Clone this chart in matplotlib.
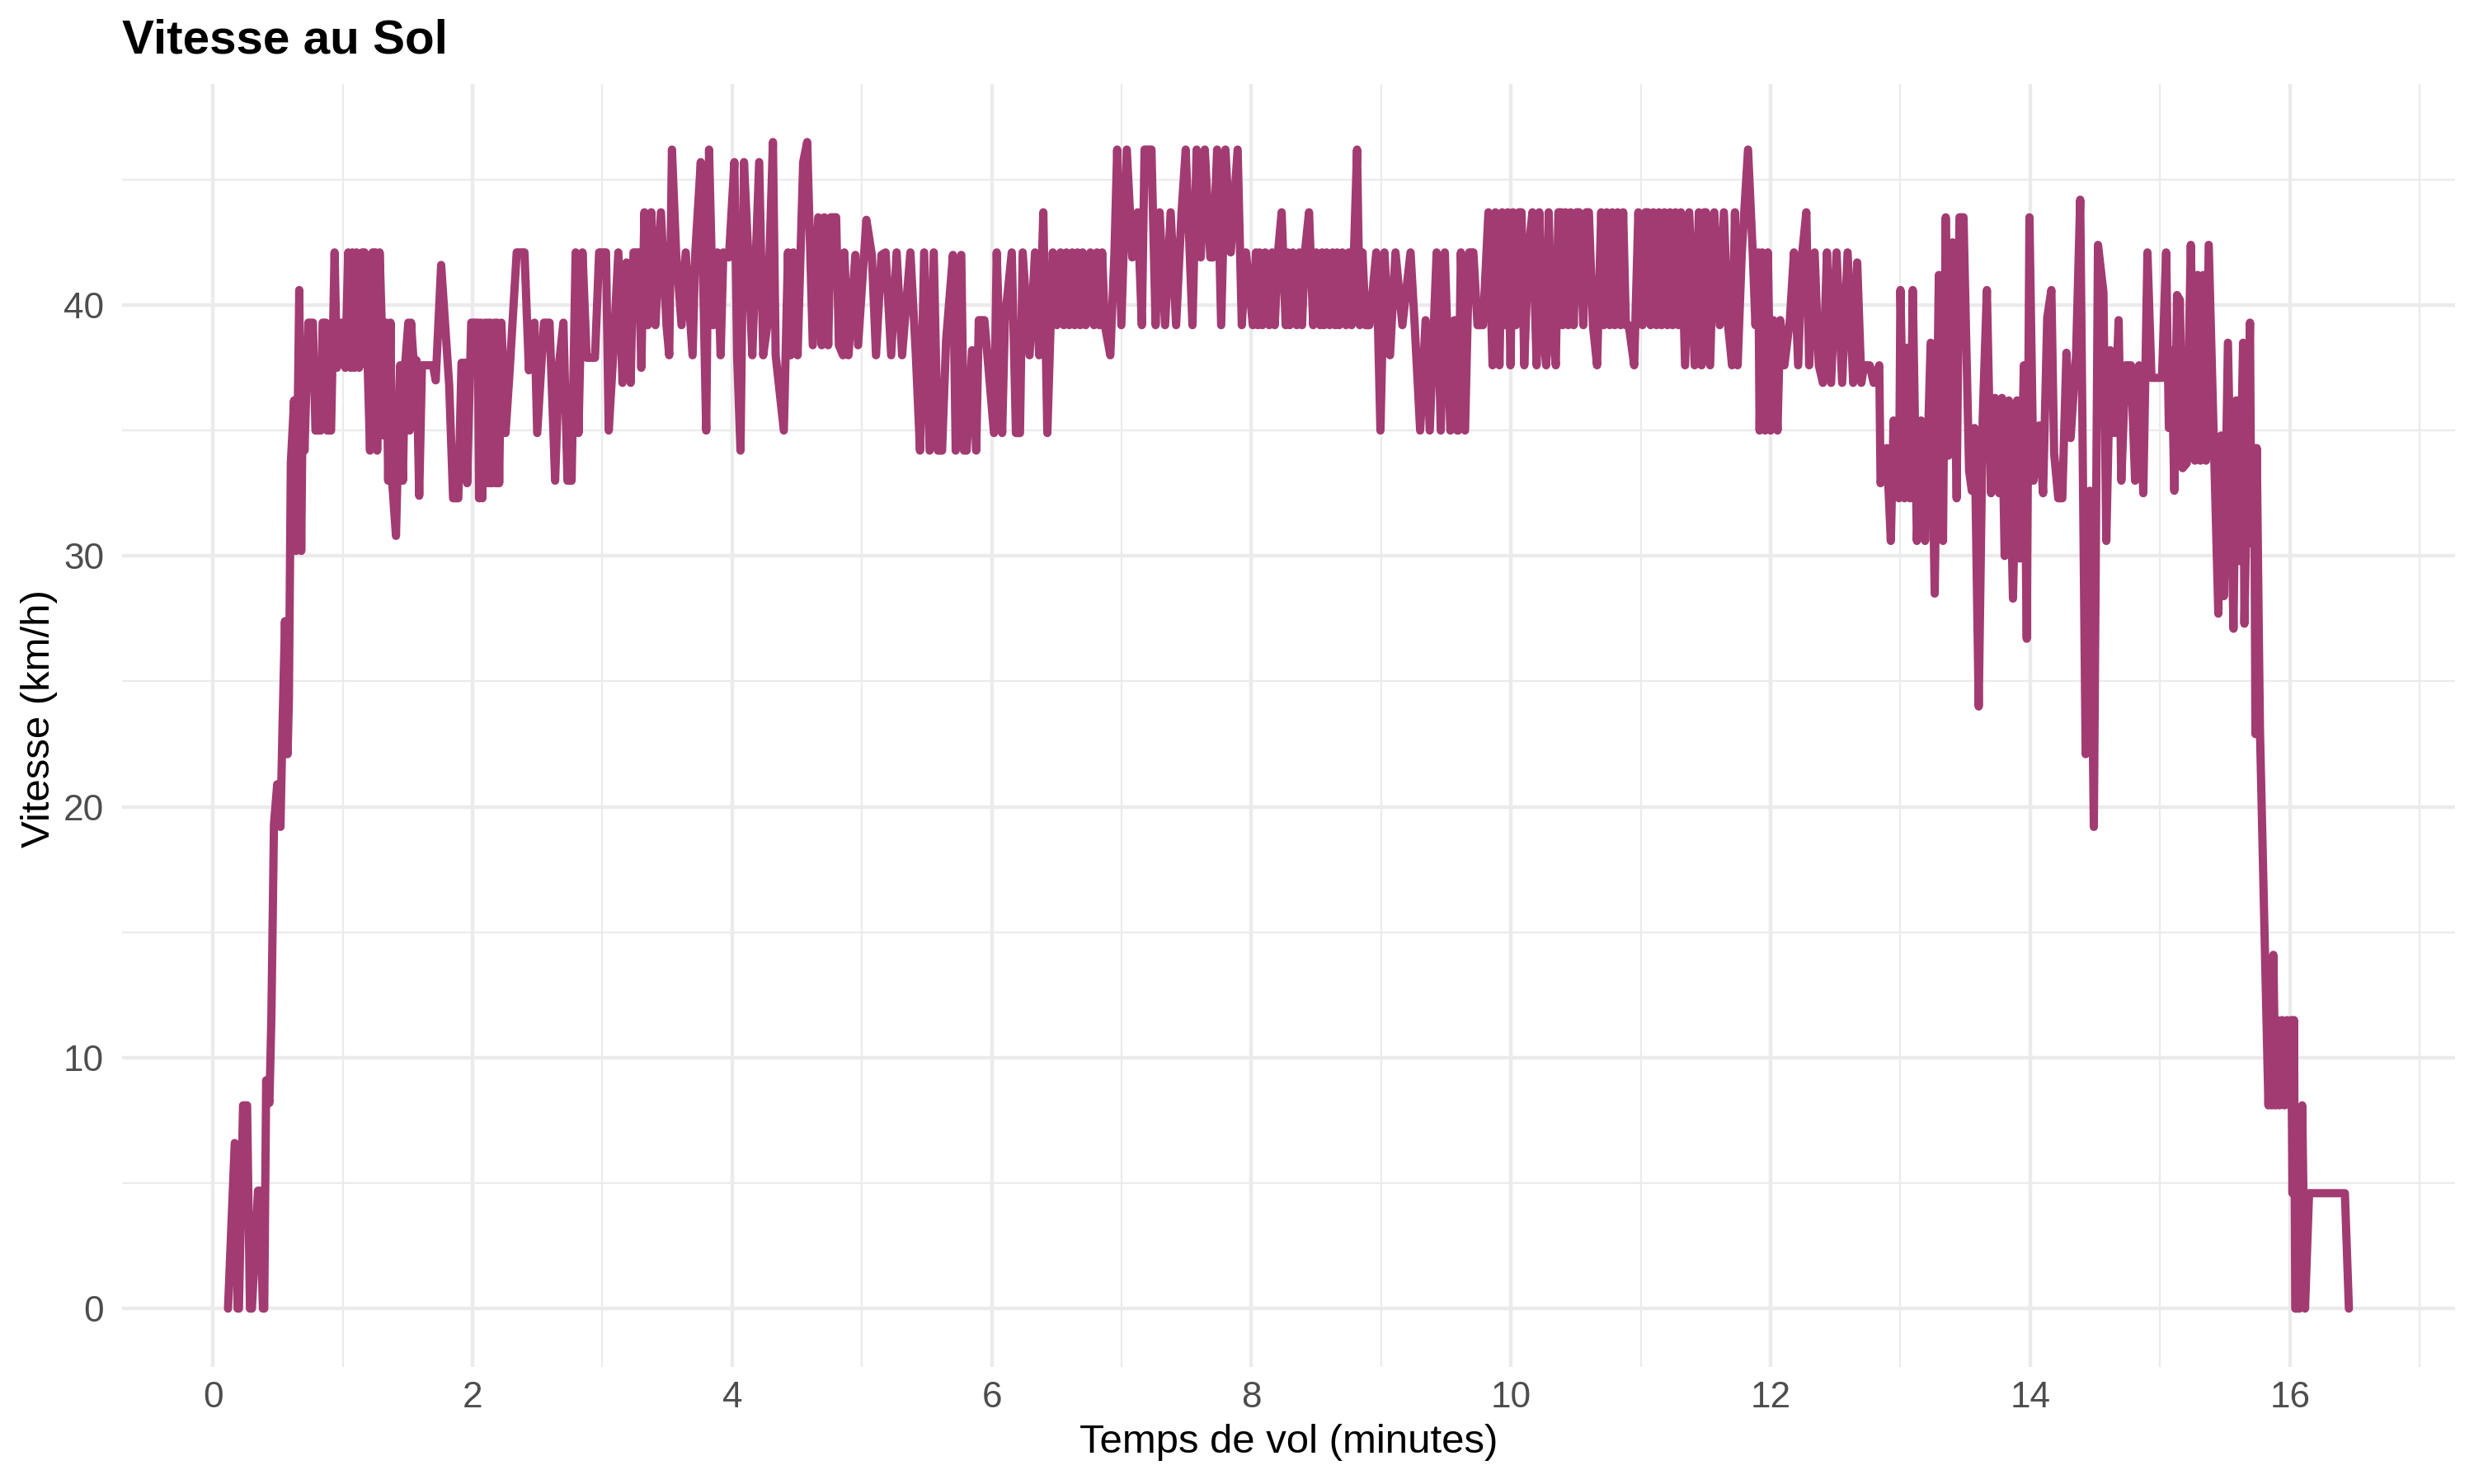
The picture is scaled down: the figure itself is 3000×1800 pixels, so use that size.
"""
Vitesse au sol d'un vol - recreation du graphique en matplotlib
"""

import numpy as np
import matplotlib.pyplot as plt
from matplotlib.ticker import MultipleLocator

# ---- Donnees (temps en minutes, vitesse en km/h) ----

# Decollage et montee
t_decollage = [0.116, 0.168, 0.19, 0.20, 0.232, 0.263, 0.285, 0.30, 0.347, 0.36,
               0.385, 0.395, 0.41, 0.435, 0.45, 0.47, 0.495, 0.52, 0.535, 0.555,
               0.575, 0.585, 0.60, 0.625, 0.64, 0.665, 0.68, 0.695, 0.705, 0.735,
               0.77, 0.79, 0.83, 0.845, 0.87, 0.88, 0.91, 0.937, 0.955, 0.99,
               1.02, 1.042, 1.06, 1.074, 1.09, 1.105, 1.126, 1.15, 1.168, 1.19,
               1.21, 1.23, 1.253, 1.265, 1.284, 1.30, 1.316, 1.335, 1.35, 1.368,
               1.38, 1.41, 1.442, 1.463, 1.48, 1.505, 1.515, 1.526, 1.545, 1.568,
               1.589, 1.61, 1.632, 1.695, 1.716, 1.758]
v_decollage = [0, 6.6, 0, 0, 8.1, 8.1, 0, 0, 4.7, 4.7,
               0, 0, 9.1, 8.2, 11.6, 19.3, 20.9, 19.2, 23.0, 27.4,
               22.1, 24.3, 33.7, 36.2, 30.2, 40.6, 30.2, 38.2, 34.2, 39.3,
               39.3, 35.0, 35.0, 39.3, 39.3, 35.0, 35.0, 42.1, 37.5, 39.3,
               37.5, 42.1, 37.5, 42.1, 37.5, 42.1, 37.5, 42.1, 42.1, 38.0,
               34.2, 42.1, 42.1, 34.2, 42.1, 39.3, 34.8, 39.3, 33.0, 39.3,
               33.0, 30.8, 37.6, 33.0, 37.6, 39.3, 35.0, 39.3, 37.8, 37.8,
               32.4, 37.6, 37.6, 37.6, 37.0, 41.6]

# Premiere partie du palier (2 a 4 min)
t_palier_a = [1.82, 1.85, 1.89, 1.915, 1.947, 1.958, 1.99, 2.04, 2.05, 2.064,
              2.075, 2.095, 2.105, 2.117, 2.128, 2.138, 2.15, 2.17, 2.18, 2.19,
              2.205, 2.222, 2.254, 2.286, 2.34, 2.40, 2.434,
              2.477, 2.498, 2.55, 2.593, 2.636, 2.667, 2.70, 2.731, 2.763, 2.794,
              2.816, 2.847, 2.879, 2.943, 2.975, 3.028, 3.049, 3.08, 3.123, 3.155,
              3.186, 3.218, 3.24, 3.28, 3.30, 3.324, 3.35, 3.377, 3.409, 3.451,
              3.494, 3.515, 3.536, 3.568, 3.61, 3.642, 3.695, 3.716, 3.758, 3.80,
              3.822, 3.854, 3.886]
v_palier_a = [36.8, 32.3, 32.3, 37.7, 37.7, 32.9, 39.3, 39.3, 32.3, 39.3,
              32.3, 39.3, 32.9, 39.3, 32.9, 39.3, 32.9, 39.3, 32.9, 39.3,
              32.9, 39.3, 34.9, 37.4, 42.1, 42.1, 37.4,
              39.3, 34.9, 39.3, 39.3, 33.0, 37.7, 39.3, 33.0, 33.0, 42.1,
              34.9, 42.1, 37.9, 37.9, 42.1, 42.1, 35.0, 37.7, 42.1, 36.9,
              41.7, 36.9, 42.1, 42.1, 37.5, 43.7, 39.2, 43.7, 39.2, 43.7,
              39.2, 38.0, 46.2, 42.1, 39.2, 42.1, 38.0, 42.1, 45.7, 35.0,
              46.2, 39.2, 42.1]

# Palier 4 a 5.8 min
t_palier_b = [3.911, 3.932, 3.975, 4.017, 4.038, 4.064, 4.091, 4.123, 4.155, 4.208,
              4.239, 4.271, 4.314, 4.335, 4.398, 4.43, 4.45, 4.472, 4.504, 4.547,
              4.578, 4.621, 4.663, 4.69, 4.71, 4.74, 4.76, 4.801, 4.822, 4.854,
              4.864, 4.896, 4.949, 4.97, 5.034, 5.076, 5.108, 5.15, 5.182, 5.225,
              5.267, 5.309, 5.373, 5.415, 5.447, 5.479, 5.521, 5.553, 5.585, 5.617,
              5.648, 5.701, 5.722, 5.765, 5.786]
v_palier_b = [38.0, 42.1, 41.9, 45.7, 38.0, 34.2, 45.7, 42.1, 38.0, 45.7,
              38.0, 39.2, 46.5, 38.0, 35.0, 42.1, 38.0, 42.1, 38.0, 45.7,
              46.5, 38.4, 43.5, 38.4, 43.5, 38.4, 43.5, 43.5, 38.4, 38.0,
              42.1, 38.0, 42.0, 38.4, 43.4, 42.0, 38.0, 42.0, 42.1, 38.0,
              42.1, 38.0, 42.1, 38.0, 34.2, 42.1, 34.2, 42.1, 34.2, 34.2,
              38.6, 42.0, 34.2, 42.0, 34.2]

# Palier 5.8 a 7.7 min
t_palier_c = [5.806, 5.848, 5.88, 5.90, 5.943, 6.017, 6.038, 6.08, 6.101, 6.154,
              6.186, 6.217, 6.238, 6.291, 6.333, 6.365, 6.397, 6.428, 6.47, 6.502,
              6.53, 6.555, 6.575, 6.597, 6.62, 6.639, 6.66, 6.681, 6.70, 6.724,
              6.76, 6.787, 6.81, 6.829, 6.85, 6.871, 6.913, 6.945, 6.966, 6.998,
              7.04, 7.082, 7.124, 7.156, 7.177, 7.23, 7.262, 7.293, 7.335, 7.378,
              7.42, 7.462, 7.494, 7.546, 7.578, 7.61, 7.641, 7.684]
v_palier_c = [34.2, 38.2, 34.2, 39.4, 39.4, 34.9, 42.1, 34.9, 39.4, 42.1,
              34.9, 34.9, 42.1, 38.0, 42.1, 38.0, 43.7, 34.9, 42.1, 39.2,
              42.1, 39.2, 42.1, 39.2, 42.1, 39.2, 42.1, 39.2, 42.1, 39.2,
              42.1, 39.2, 42.1, 39.2, 42.1, 39.2, 38.0, 42.1, 46.2, 39.2,
              46.2, 41.9, 43.7, 39.2, 46.2, 46.2, 39.2, 43.7, 39.2, 43.7,
              39.2, 43.7, 46.2, 39.2, 46.2, 41.9, 46.2, 41.9]

# Palier 7.7 a 9.6 min
t_palier_d = [7.704, 7.736, 7.767, 7.80, 7.841, 7.894, 7.926, 7.958, 8.011, 8.035,
              8.05, 8.063, 8.085, 8.106, 8.137, 8.16, 8.18, 8.205, 8.233, 8.264,
              8.28, 8.296, 8.32, 8.349, 8.37, 8.39, 8.412, 8.444, 8.476, 8.50,
              8.529, 8.545, 8.56, 8.58, 8.603, 8.625, 8.645, 8.66, 8.677, 8.70,
              8.729, 8.75, 8.772, 8.79, 8.814, 8.835, 8.856, 8.88,
              8.909, 8.962, 8.994, 9.025, 9.068, 9.11, 9.163, 9.226, 9.258, 9.30,
              9.342, 9.374, 9.427, 9.459, 9.49, 9.533, 9.564, 9.586]
v_palier_d = [41.9, 46.2, 39.2, 46.2, 42.1, 46.2, 39.2, 42.1, 39.2, 42.1,
              39.2, 42.1, 39.2, 42.1, 39.2, 42.1, 39.2, 42.1, 43.7, 39.2,
              42.1, 39.2, 42.1, 39.2, 42.1, 39.2, 42.1, 43.7, 39.2, 42.1,
              39.2, 42.1, 39.2, 42.1, 39.2, 42.1, 39.2, 42.1, 39.2, 42.1,
              39.2, 42.1, 39.2, 42.1, 46.2, 39.2, 42.1, 39.2,
              39.2, 42.1, 35.0, 42.1, 38.0, 42.1, 39.2, 42.1, 39.2, 35.0,
              39.4, 35.0, 42.1, 35.0, 42.1, 35.0, 39.4, 35.0]

# Palier 9.6 a 11.5 min
t_palier_e = [9.593, 9.614, 9.646, 9.678, 9.71, 9.742, 9.784, 9.826, 9.858, 9.88,
              9.911, 9.932, 9.955, 9.975, 9.996, 10.015, 10.038, 10.06, 10.081, 10.102,
              10.133, 10.165, 10.197, 10.218, 10.239, 10.271, 10.29, 10.314, 10.345, 10.365,
              10.388, 10.398, 10.42, 10.441, 10.46, 10.483, 10.505, 10.525, 10.557, 10.58,
              10.6, 10.631, 10.663, 10.695, 10.715, 10.737, 10.76, 10.78, 10.80, 10.822,
              10.845, 10.864, 10.885, 10.907, 10.949, 10.981, 11.013, 11.035, 11.055, 11.075,
              11.097, 11.12, 11.14, 11.16, 11.182, 11.205, 11.225, 11.245, 11.267, 11.29,
              11.309, 11.341, 11.373, 11.415, 11.447, 11.468, 11.489]
v_palier_e = [35.0, 42.1, 35.0, 42.1, 42.1, 39.2, 39.2, 43.7, 37.6, 43.7,
              37.6, 43.7, 39.2, 43.7, 37.6, 43.7, 39.2, 43.7, 43.7, 37.6,
              42.1, 43.7, 37.6, 43.7, 39.2, 37.6, 43.7, 39.2, 37.6, 43.7,
              43.7, 39.2, 43.7, 39.2, 43.7, 39.2, 43.7, 43.7, 39.2, 43.7,
              43.7, 39.2, 37.6, 43.7, 39.2, 43.7, 39.2, 43.7, 39.2, 43.7,
              39.2, 43.7, 39.2, 39.2, 37.6, 43.7, 39.2, 43.7, 43.7, 39.2,
              43.7, 39.2, 43.7, 39.2, 43.7, 39.2, 43.7, 39.2, 43.7, 39.2,
              43.7, 37.6, 43.7, 37.6, 43.7, 37.6, 43.7]

# Fin du palier 11.5 a 12.85 min
t_palier_f = [11.502, 11.534, 11.566, 11.608, 11.64, 11.672, 11.703, 11.725, 11.746, 11.778,
              11.826, 11.862, 11.883, 11.905, 11.915, 11.935, 11.958, 11.979, 12.0, 12.021,
              12.053, 12.074, 12.106, 12.148, 12.18, 12.212, 12.244, 12.275, 12.297, 12.339,
              12.371, 12.403, 12.434, 12.466, 12.508, 12.551, 12.593, 12.636, 12.667, 12.699,
              12.72, 12.763, 12.794, 12.837, 12.847]
v_palier_f = [43.7, 37.6, 43.7, 39.2, 43.7, 39.2, 37.6, 43.7, 37.6, 42.1,
              46.2, 42.1, 39.2, 42.1, 35.0, 42.1, 35.0, 42.1, 35.0, 39.4,
              35.0, 39.4, 37.6, 39.4, 42.1, 37.6, 42.1, 43.7, 37.6, 42.1,
              37.6, 36.9, 42.1, 36.9, 42.1, 36.9, 42.1, 36.9, 41.7, 36.9,
              37.6, 37.6, 36.9, 37.6, 32.9]

# Phase turbulente 12.9 a 14.9 min
t_turbulence = [12.894, 12.926, 12.947, 12.989, 13.0, 13.032, 13.053, 13.074, 13.095, 13.127,
                13.159, 13.19, 13.233, 13.264, 13.296, 13.328, 13.349, 13.37, 13.402, 13.433,
                13.455, 13.486, 13.507, 13.529, 13.55, 13.571, 13.603, 13.634, 13.666, 13.698,
                13.729, 13.761, 13.782, 13.803, 13.835, 13.867, 13.899, 13.92, 13.951, 13.973,
                13.994, 14.025, 14.068, 14.099, 14.131, 14.163, 14.184, 14.216, 14.247, 14.279,
                14.311, 14.353, 14.385, 14.406, 14.427, 14.459, 14.49, 14.522, 14.564, 14.586,
                14.617, 14.649, 14.681, 14.702, 14.734, 14.776, 14.808, 14.839, 14.871, 14.903,
                14.934]
v_turbulence = [34.3, 30.6, 35.4, 32.3, 40.6, 32.3, 38.3, 32.3, 40.6, 30.6,
                35.4, 30.6, 38.5, 28.5, 41.2, 30.6, 43.5, 34.0, 42.5, 32.3,
                43.5, 43.5, 38.5, 33.4, 32.6, 35.1, 24.0, 35.5, 40.6, 32.5,
                36.3, 32.5, 36.3, 30.0, 36.2, 28.3, 36.2, 29.9, 37.6, 26.7,
                43.5, 33.0, 35.2, 32.5, 39.5, 40.6, 34.1, 32.3, 32.3, 38.1,
                34.7, 38.0, 44.2, 33.1, 22.1, 32.6, 19.2, 42.4, 40.5, 30.6,
                38.2, 34.9, 39.4, 33.0, 37.6, 37.6, 33.0, 37.6, 32.5, 42.1,
                37.1]

# Approche et atterrissage
t_atterrissage = [14.983, 15.015, 15.047, 15.068, 15.089, 15.11, 15.131, 15.153, 15.174, 15.206,
                  15.237, 15.269, 15.29, 15.311, 15.333, 15.354, 15.375, 15.449, 15.47, 15.492,
                  15.523, 15.566, 15.587, 15.608, 15.64, 15.65, 15.693, 15.703, 15.725, 15.735,
                  15.745, 15.76, 15.77, 15.835, 15.85, 15.862, 15.873, 15.89, 15.905, 15.92,
                  15.94, 15.958, 15.979, 16.0, 16.011, 16.02, 16.032, 16.042, 16.074, 16.095,
                  16.117, 16.148, 16.424, 16.455]
v_atterrissage = [37.1, 37.1, 42.1, 35.1, 38.2, 32.6, 40.4, 40.2, 33.5, 33.7,
                  42.4, 33.8, 41.2, 33.8, 41.2, 33.8, 42.4, 27.7, 34.8, 28.4,
                  38.5, 27.1, 36.2, 29.8, 38.5, 27.3, 39.3, 30.5, 34.3, 22.9,
                  34.3, 27.3, 23.0, 8.1, 11.5, 8.1, 14.1, 8.1, 11.5, 8.1,
                  11.5, 8.1, 11.5, 8.1, 11.5, 4.6, 11.5, 0, 0, 8.1,
                  0, 4.6, 4.6, 0]

temps = np.concatenate([t_decollage, t_palier_a, t_palier_b, t_palier_c, t_palier_d,
                        t_palier_e, t_palier_f, t_turbulence, t_atterrissage])
vitesse = np.concatenate([v_decollage, v_palier_a, v_palier_b, v_palier_c, v_palier_d,
                          v_palier_e, v_palier_f, v_turbulence, v_atterrissage])

# ---- Style ----
plt.rcParams['font.family'] = ['Liberation Sans', 'DejaVu Sans']
line_color = '#A23B72'
grid_color = '#EBEBEB'

fig = plt.figure(figsize=(10, 6), dpi=300)
ax = fig.add_axes([0.0493, 0.0789, 0.943, 0.8647])

ax.plot(temps, vitesse, color=line_color, linewidth=2.4,
        solid_capstyle='round', solid_joinstyle='round', zorder=3)

ax.margins(x=0.05, y=0.05)

ax.xaxis.set_major_locator(MultipleLocator(2))
ax.xaxis.set_minor_locator(MultipleLocator(1))
ax.yaxis.set_major_locator(MultipleLocator(10))
ax.yaxis.set_minor_locator(MultipleLocator(5))

ax.grid(which='major', color=grid_color, linewidth=1.07)
ax.grid(which='minor', color=grid_color, linewidth=0.55)
ax.set_axisbelow(True)

for spine in ax.spines.values():
    spine.set_visible(False)

ax.tick_params(which='both', length=0)
ax.tick_params(axis='x', pad=4.2, labelsize=10.6, labelcolor='#4D4D4D')
ax.tick_params(axis='y', pad=5.2, labelsize=10.6, labelcolor='#4D4D4D')

# Titres
fig.text(0.0493, 0.9639, 'Vitesse au Sol', fontsize=14, fontweight='bold',
         ha='left', va='baseline', color='black')
fig.text(0.5208, 0.0283, 'Temps de vol (minutes)', fontsize=11.8,
         ha='center', va='center', color='black')
fig.text(0.0158, 0.5156, 'Vitesse (km/h)', fontsize=11.8, rotation=90,
         ha='center', va='center', color='black')

fig.savefig('out.png', dpi=300, facecolor='white')
